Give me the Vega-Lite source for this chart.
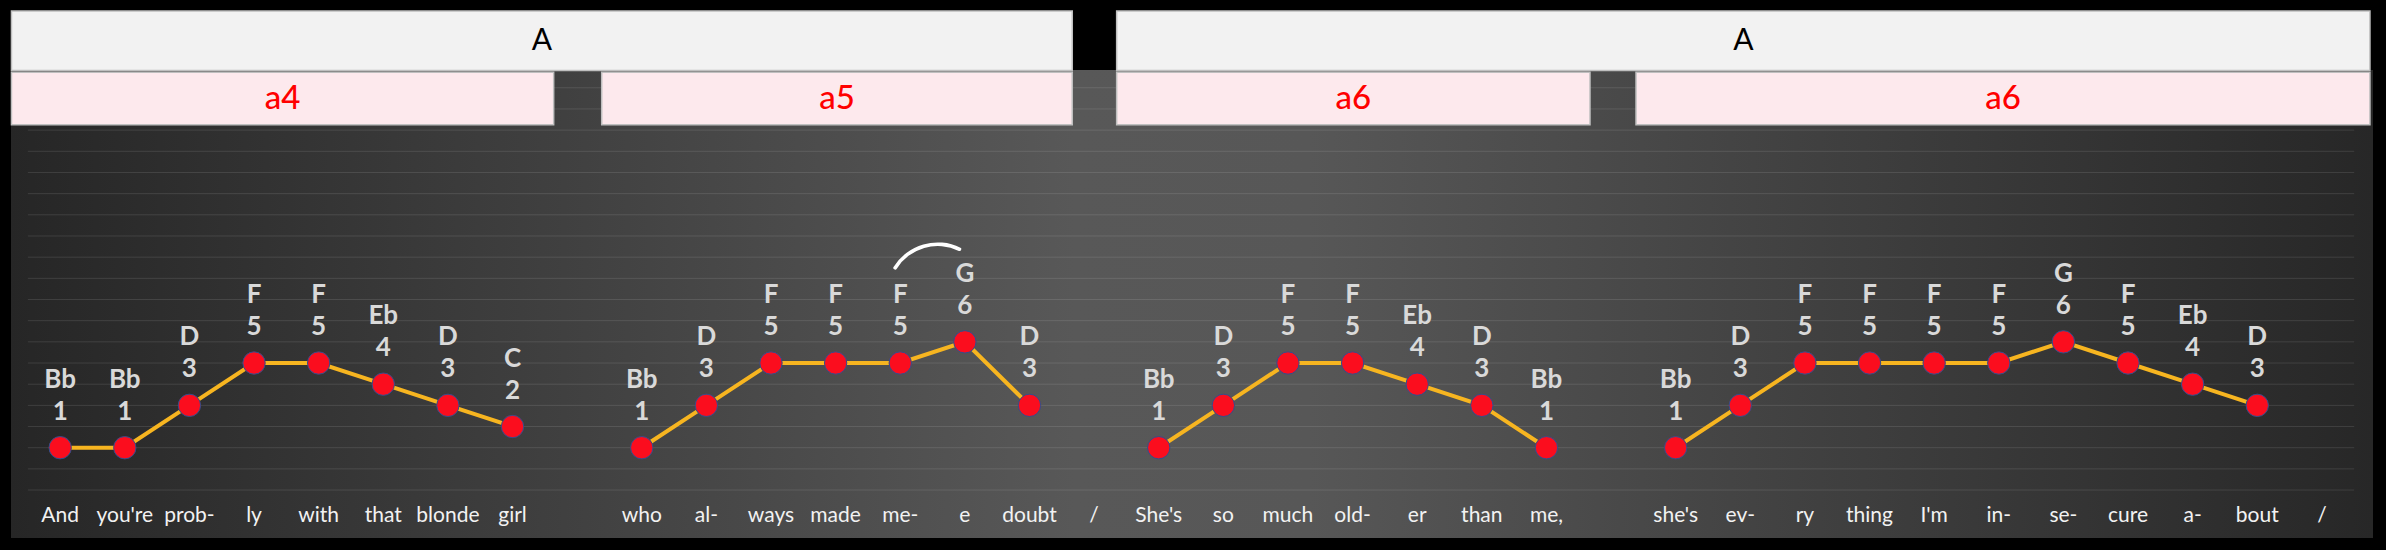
{
  "$schema": "https://vega.github.io/schema/vega-lite/v6.json",
  "width": 2362,
  "height": 468,
  "autosize": {"type": "none"},
  "padding": {"left": 11, "top": 70, "right": 13, "bottom": 12},
  "background": "#000000",
  "config": {
    "view": {
      "stroke": null,
      "fill": {
        "gradient": "linear",
        "x1": 0, "y1": 0, "x2": 1, "y2": 0,
        "stops": [
          {"offset": 0, "color": "#262626"},
          {"offset": 0.45, "color": "#585858"},
          {"offset": 0.55, "color": "#575757"},
          {"offset": 1, "color": "#272727"}
        ]
      }
    },
    "font": "Lato"
  },
  "datasets": {
    "notes": [
      {"i": 0, "lyric": "And", "note": "Bb", "deg": 1, "phrase": 1},
      {"i": 1, "lyric": "you're", "note": "Bb", "deg": 1, "phrase": 1},
      {"i": 2, "lyric": "prob-", "note": "D", "deg": 3, "phrase": 1},
      {"i": 3, "lyric": "ly", "note": "F", "deg": 5, "phrase": 1},
      {"i": 4, "lyric": "with", "note": "F", "deg": 5, "phrase": 1},
      {"i": 5, "lyric": "that", "note": "Eb", "deg": 4, "phrase": 1},
      {"i": 6, "lyric": "blonde", "note": "D", "deg": 3, "phrase": 1},
      {"i": 7, "lyric": "girl", "note": "C", "deg": 2, "phrase": 1},
      {"i": 9, "lyric": "who", "note": "Bb", "deg": 1, "phrase": 2},
      {"i": 10, "lyric": "al-", "note": "D", "deg": 3, "phrase": 2},
      {"i": 11, "lyric": "ways", "note": "F", "deg": 5, "phrase": 2},
      {"i": 12, "lyric": "made", "note": "F", "deg": 5, "phrase": 2},
      {"i": 13, "lyric": "me-", "note": "F", "deg": 5, "phrase": 2},
      {"i": 14, "lyric": "e", "note": "G", "deg": 6, "phrase": 2},
      {"i": 15, "lyric": "doubt", "note": "D", "deg": 3, "phrase": 2},
      {"i": 16, "lyric": "/", "note": null, "deg": null, "phrase": 2},
      {"i": 17, "lyric": "She's", "note": "Bb", "deg": 1, "phrase": 3},
      {"i": 18, "lyric": "so", "note": "D", "deg": 3, "phrase": 3},
      {"i": 19, "lyric": "much", "note": "F", "deg": 5, "phrase": 3},
      {"i": 20, "lyric": "old-", "note": "F", "deg": 5, "phrase": 3},
      {"i": 21, "lyric": "er", "note": "Eb", "deg": 4, "phrase": 3},
      {"i": 22, "lyric": "than", "note": "D", "deg": 3, "phrase": 3},
      {"i": 23, "lyric": "me,", "note": "Bb", "deg": 1, "phrase": 3},
      {"i": 25, "lyric": "she's", "note": "Bb", "deg": 1, "phrase": 4},
      {"i": 26, "lyric": "ev-", "note": "D", "deg": 3, "phrase": 4},
      {"i": 27, "lyric": "ry", "note": "F", "deg": 5, "phrase": 4},
      {"i": 28, "lyric": "thing", "note": "F", "deg": 5, "phrase": 4},
      {"i": 29, "lyric": "I'm", "note": "F", "deg": 5, "phrase": 4},
      {"i": 30, "lyric": "in-", "note": "F", "deg": 5, "phrase": 4},
      {"i": 31, "lyric": "se-", "note": "G", "deg": 6, "phrase": 4},
      {"i": 32, "lyric": "cure", "note": "F", "deg": 5, "phrase": 4},
      {"i": 33, "lyric": "a-", "note": "Eb", "deg": 4, "phrase": 4},
      {"i": 34, "lyric": "bout", "note": "D", "deg": 3, "phrase": 4},
      {"i": 35, "lyric": "/", "note": null, "deg": null, "phrase": 4}
    ],
    "grid": [
      {"g": -1}, {"g": 0}, {"g": 1}, {"g": 2}, {"g": 3}, {"g": 4}, {"g": 5},
      {"g": 6}, {"g": 7}, {"g": 8}, {"g": 9}, {"g": 10}, {"g": 11}, {"g": 12},
      {"g": 13}, {"g": 14}, {"g": 15}, {"g": 16}, {"g": 17}, {"g": 18}
    ],
    "sections": [
      {"label": "A", "start": -0.754, "end": 15.662},
      {"label": "A", "start": 16.349, "end": 35.744}
    ],
    "phrases": [
      {"label": "a4", "start": -0.754, "end": 7.637},
      {"label": "a5", "start": 8.38, "end": 15.662},
      {"label": "a6", "start": 16.349, "end": 23.674},
      {"label": "a6", "start": 24.386, "end": 35.744}
    ],
    "slur": [
      {"cx": 13.58, "cy": 8.24}
    ]
  },
  "layer": [
    {
      "data": {"name": "grid"},
      "mark": {"type": "rule", "stroke": "#ffffff", "strokeOpacity": 0.11, "strokeWidth": 1},
      "encoding": {
        "y": {"field": "g", "type": "quantitative", "scale": {"domain": [-3.265, 18.84], "nice": false, "zero": false}, "axis": null},
        "x": {"datum": -0.5, "type": "quantitative", "scale": {"domain": [-0.761, 35.791], "nice": false, "zero": false}, "axis": null},
        "x2": {"datum": 35.5}
      }
    },
    {
      "data": {"name": "sections"},
      "mark": {"type": "rect", "fill": "#f2f2f2", "stroke": "#bfbfbf", "strokeWidth": 1.5},
      "encoding": {
        "x": {"field": "start", "type": "quantitative"},
        "x2": {"field": "end"},
        "y": {"datum": 21.63, "type": "quantitative"},
        "y2": {"datum": 18.82}
      }
    },
    {
      "data": {"name": "sections"},
      "transform": [{"calculate": "(datum.start + datum.end) / 2", "as": "mid"}],
      "mark": {"type": "text", "color": "#000000", "fontSize": 30, "font": "Lato", "align": "center", "baseline": "middle"},
      "encoding": {
        "x": {"field": "mid", "type": "quantitative"},
        "y": {"datum": 20.2, "type": "quantitative"},
        "text": {"field": "label"}
      }
    },
    {
      "data": {"name": "phrases"},
      "mark": {"type": "rect", "fill": "#fde9ed", "stroke": "#bfbfbf", "strokeWidth": 1.5},
      "encoding": {
        "x": {"field": "start", "type": "quantitative"},
        "x2": {"field": "end"},
        "y": {"datum": 18.73, "type": "quantitative"},
        "y2": {"datum": 16.25}
      }
    },
    {
      "data": {"name": "phrases"},
      "transform": [{"calculate": "(datum.start + datum.end) / 2", "as": "mid"}],
      "mark": {"type": "text", "color": "#ff0000", "fontSize": 33, "font": "Lato", "fontWeight": 500, "align": "center", "baseline": "middle"},
      "encoding": {
        "x": {"field": "mid", "type": "quantitative"},
        "y": {"datum": 17.48, "type": "quantitative"},
        "text": {"field": "label"}
      }
    },
    {
      "data": {"name": "notes"},
      "transform": [{"filter": "datum.deg != null"}],
      "mark": {"type": "line", "stroke": "#f7b520", "strokeWidth": 4},
      "encoding": {
        "x": {"field": "i", "type": "quantitative"},
        "y": {"field": "deg", "type": "quantitative"},
        "detail": {"field": "phrase"}
      }
    },
    {
      "data": {"name": "notes"},
      "transform": [{"filter": "datum.deg != null"}],
      "mark": {"type": "point", "filled": true, "fill": "#fb0d1e", "stroke": "#2f4f8f", "strokeWidth": 1, "size": 500, "opacity": 1},
      "encoding": {
        "x": {"field": "i", "type": "quantitative"},
        "y": {"field": "deg", "type": "quantitative"}
      }
    },
    {
      "data": {"name": "notes"},
      "transform": [{"filter": "datum.deg != null"}],
      "mark": {"type": "text", "color": "#d9d9d9", "fontSize": 26, "fontWeight": "bold", "font": "Lato", "align": "center", "baseline": "middle", "dy": -36},
      "encoding": {
        "x": {"field": "i", "type": "quantitative"},
        "y": {"field": "deg", "type": "quantitative"},
        "text": {"field": "deg", "type": "quantitative"}
      }
    },
    {
      "data": {"name": "notes"},
      "transform": [{"filter": "datum.deg != null"}],
      "mark": {"type": "text", "color": "#d9d9d9", "fontSize": 26, "fontWeight": "bold", "font": "Lato", "align": "center", "baseline": "middle", "dy": -68},
      "encoding": {
        "x": {"field": "i", "type": "quantitative"},
        "y": {"field": "deg", "type": "quantitative"},
        "text": {"field": "note"}
      }
    },
    {
      "data": {"name": "notes"},
      "mark": {"type": "text", "color": "#f2f2f2", "fontSize": 21, "font": "Lato", "align": "center", "baseline": "middle"},
      "encoding": {
        "x": {"field": "i", "type": "quantitative"},
        "y": {"datum": -2.23, "type": "quantitative"},
        "text": {"field": "lyric"}
      }
    },
    {
      "data": {"name": "slur"},
      "mark": {"type": "arc", "fill": "#ffffff", "innerRadius": 48.4, "outerRadius": 52, "theta": -1.045, "theta2": 0.482, "cornerRadius": 1.5},
      "encoding": {
        "x": {"field": "cx", "type": "quantitative"},
        "y": {"field": "cy", "type": "quantitative"}
      }
    }
  ]
}
